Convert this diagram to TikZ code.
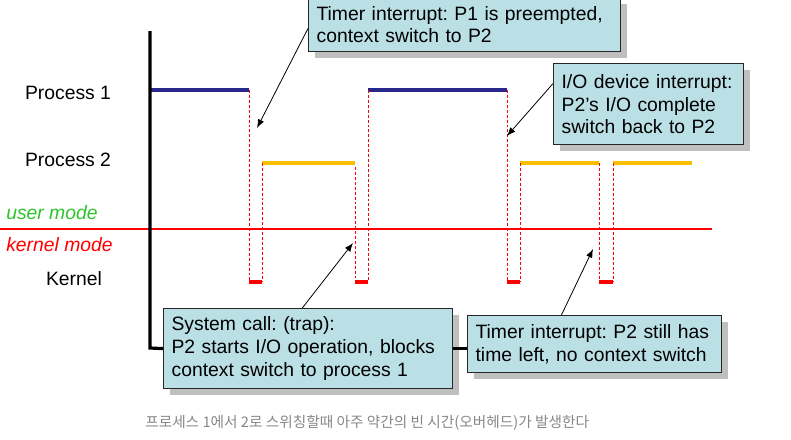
\documentclass[tikz,border=0pt]{standalone}
\usepackage{fontspec}
\setmainfont{Liberation Sans}
\newfontfamily\kofont{Noto Sans CJK KR}
\usetikzlibrary{calc,shadows,arrows.meta}
\frenchspacing
\definecolor{boxfill}{RGB}{186,224,229}
\definecolor{pblue}{RGB}{40,40,140}
\definecolor{pyellow}{RGB}{250,192,0}
\definecolor{umgreen}{RGB}{45,195,45}
\definecolor{capgray}{RGB}{135,135,135}
\newcommand{\lblfont}{\fontsize{14.5}{17}\selectfont}
\newcommand{\kbot}{282}
\tikzset{lbl/.style={font=\lblfont, inner sep=0pt},
  infobox/.style 2 args={draw=black!85, line width=0.9pt, fill=boxfill, anchor=north west,
    align=left, inner xsep=6pt, inner ysep=0pt, text width=#1, minimum height=#2,
    font=\lblfont, drop shadow={shadow xshift=4.5pt, shadow yshift=-4.5pt, fill=black!25, opacity=1}},
  axisline/.style={black, line width=2.4pt},
  p1line/.style={pblue, line width=2.6pt},
  p2line/.style={pyellow, line width=2.6pt},
  swline/.style={red, line width=0.6pt, dash pattern=on 2.2pt off 1.5pt},
  kline/.style={red, line width=2.6pt},
  callout/.style={black, line width=0.6pt, -{Latex[length=6.5pt,width=5pt]}}}

\begin{document}
\begin{tikzpicture}[x=0.75pt,y=-0.75pt]
\useasboundingbox (0,0) rectangle (791,439);

% row labels
\node[lbl] (p1) at (68,93) {Process 1};
\node[lbl] (p2) at (68,160) {Process 2};
\node[lbl, anchor=west, text=umgreen, font=\lblfont\itshape] (um) at (6,213) {user mode};
\node[lbl, anchor=west, text=red, font=\lblfont\itshape] (km) at (6,245) {kernel mode};
\node[lbl] (k) at (74,279) {Kernel};

\draw[red, line width=1.1pt] (0,229) -- (712,229);

\coordinate (ax0) at (150,31);
\coordinate (ax1) at (150,348);

% running time of each process
\draw[p1line] (ax0 |- 0,90) -- (249,90) (368,90) -- (507,90);
\draw[p2line] (262,163) -- (355,163) (520,163) -- (599,163) (613,163) -- (692,163);

% switches through the kernel
\foreach \a/\b/\ta/\tb in {249/262/90/163, 355/368/167/90, 507/520/90/163, 599/613/163/163} {
  \draw[swline] (\a,\ta) -- (\a,\kbot);
  \draw[swline] (\b,\tb) -- (\b,\kbot);
  \draw[kline] (\a,\kbot) -- (\b,\kbot);
}

\node[infobox={222pt}{40.5pt}] (tbox) at (308,-3) {Timer interrupt: P1 is preempted,\\context switch to P2};
\node[infobox={130.5pt}{60.75pt}] (iobox) at (553,63) {I/O device interrupt:\\P2's I/O complete\\switch back to P2};
\node[infobox={204.75pt}{60pt}] (scbox) at (163,308) {System call: (trap):\\P2 starts I/O operation, blocks\\context switch to process 1};
\node[infobox={178.5pt}{42.75pt}] (tibox) at (467,315) {Timer interrupt: P2 still has\\time left, no context switch};

\draw[axisline] (ax0) -- (ax1) -- (scbox.west);
\draw[axisline] (scbox.east) -- (scbox.east -| tibox.west);

\coordinate (a1) at (257,128);
\coordinate (a2) at (507,136);
\coordinate (a3) at (353,243);
\coordinate (a4) at (593,249);
\draw[callout] ($(tbox.north west)!0.57!(tbox.south west)$) -- (a1);
\draw[callout] ($(iobox.north west)!0.25!(iobox.south west)$) -- (a2);
\draw[callout] ($(scbox.north west)!0.48!(scbox.north east)$) -- (a3);
\draw[callout] ($(tibox.north west)!0.37!(tibox.north east)$) -- (a4);

\node[anchor=west, inner sep=0pt, text=capgray, font=\kofont\fontsize{11}{13}\selectfont] (cap) at (145,423) {프로세스 1에서 2로 스위칭할때 아주 약간의 빈 시간(오버헤드)가 발생한다};
\end{tikzpicture}
\end{document}
